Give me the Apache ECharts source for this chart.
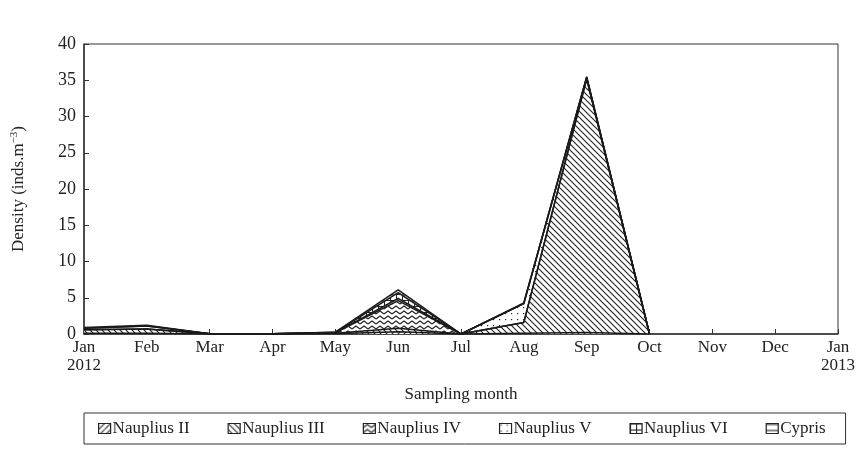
<!DOCTYPE html>
<html>
<head>
<meta charset="utf-8">
<script src="https://cdn.jsdelivr.net/npm/echarts@6/dist/echarts.min.js"></script>
<style>
  html, body { margin: 0; padding: 0; background: #fff; }
</style>
</head>
<body>
<div id="chart" style="width:858px;height:456px;"></div>
<script>
var months = ["Jan\n2012", "Feb", "Mar", "Apr", "May", "Jun", "Jul", "Aug", "Sep", "Oct", "Nov", "Dec", "Jan\n2013"];
var yTicks = [0, 5, 10, 15, 20, 25, 30, 35, 40];
var naupliusII = [0.1, 0.1, 0, 0, 0.05, 0.3, 0, 0.1, 0.2, 0, null, null, null];
var naupliusIII = [0.5, 0.6, 0.02, 0.03, 0.05, 0.5, 0, 1.5, 35.0, 0, null, null, null];
var naupliusIV = [0, 0, 0, 0, 0.05, 3.8, 0, 0, 0, 0, null, null, null];
var naupliusV = [0.2, 0.4, 0.02, 0.02, 0.05, 0.3, 0, 2.6, 0.2, 0, null, null, null];
var naupliusVI = [0, 0, 0, 0, 0.03, 0.8, 0, 0, 0, 0, null, null, null];
var cypris = [0.1, 0.1, 0, 0, 0.02, 0.4, 0, 0.1, 0.1, 0, null, null, null];

var font = "'Liberation Serif', 'DejaVu Serif', serif";

// small canvas tiles used as fill patterns
function makePattern(type) {
  var c = document.createElement("canvas");
  var w = type === "zigzag" ? 8 : 6;
  var h = type === "zigzag" ? 5 : 6;
  c.width = w;
  c.height = h;
  var g = c.getContext("2d");
  g.fillStyle = "#fff";
  g.fillRect(0, 0, w, h);
  g.strokeStyle = "#222";
  g.fillStyle = "#222";
  g.lineWidth = 1.1;
  g.beginPath();
  if (type === "back") {
    g.moveTo(-1, -1); g.lineTo(w + 1, h + 1);
    g.moveTo(-1, h - 1); g.lineTo(1, h + 1);
    g.moveTo(w - 1, -1); g.lineTo(w + 1, 1);
  } else if (type === "fwd") {
    g.moveTo(0, h); g.lineTo(w, 0);
  } else if (type === "zigzag") {
    g.moveTo(0, 4); g.lineTo(4, 1); g.lineTo(8, 4);
  } else if (type === "grid") {
    g.moveTo(0, 0.5); g.lineTo(w, 0.5);
    g.moveTo(0.5, 0); g.lineTo(0.5, h);
  } else if (type === "horiz") {
    g.moveTo(0, 1); g.lineTo(w, 1);
  }
  g.stroke();
  if (type === "dots") {
    g.fillRect(1, 1, 1.2, 1.2);
  }
  return { image: c, repeat: "repeat" };
}

var names = ["Nauplius II", "Nauplius III", "Nauplius IV", "Nauplius V", "Nauplius VI", "Cypris"];
var values = [naupliusII, naupliusIII, naupliusIV, naupliusV, naupliusVI, cypris];
var fills = ["fwd", "back", "zigzag", "dots", "grid", "horiz"];

var chart = echarts.init(document.getElementById("chart"));

var series = names.map(function(n, i) {
  return {
    name: n,
    type: "line",
    stack: "total",
    symbol: "none",
    connectNulls: false,
    lineStyle: { color: "#1a1a1a", width: 1.5 },
    itemStyle: { color: "#1a1a1a" },
    areaStyle: { color: makePattern(fills[i]), opacity: 1 },
    data: values[i]
  };
});

var option = {
  animation: false,
  backgroundColor: "#fff",
  grid: {
    left: 84,
    right: 20,
    top: 44,
    bottom: 122,
    show: true,
    borderColor: "#333",
    borderWidth: 1
  },
  legend: {
    left: 84,
    bottom: 12,
    icon: "rect",
    itemWidth: 12,
    itemHeight: 10,
    itemGap: 38,
    padding: [7, 20, 7, 14],
    borderColor: "#333",
    borderWidth: 1,
    textStyle: { fontFamily: font, fontSize: 17, color: "#222", padding: [0, 0, 0, -3] },
    data: names.map(function(n, i) {
      return {
        name: n,
        itemStyle: { color: makePattern(fills[i]), borderColor: "#222", borderWidth: 1.2 }
      };
    })
  },
  xAxis: {
    type: "category",
    boundaryGap: false,
    data: months,
    name: "Sampling month",
    nameLocation: "middle",
    nameGap: 52,
    nameTextStyle: { fontFamily: font, fontSize: 17, color: "#222" },
    axisLine: { lineStyle: { color: "#333", width: 1.5 } },
    axisTick: { inside: true, length: 5, lineStyle: { color: "#333" } },
    axisLabel: { fontFamily: font, fontSize: 17, color: "#222", margin: 5, lineHeight: 18, interval: 0 },
    splitLine: { show: false }
  },
  yAxis: {
    type: "value",
    min: yTicks[0],
    max: yTicks[yTicks.length - 1],
    interval: 5,
    name: "Density (inds.m{sup|−3})",
    nameLocation: "middle",
    nameGap: 56,
    nameTextStyle: {
      fontFamily: font,
      fontSize: 17,
      color: "#222",
      rich: { sup: { fontFamily: font, fontSize: 11, color: "#222", verticalAlign: "top", padding: [0, 0, 8, 0] } }
    },
    axisLine: { show: true, lineStyle: { color: "#333", width: 1.5 } },
    axisTick: { show: true, inside: true, length: 5, lineStyle: { color: "#333" } },
    axisLabel: { fontFamily: font, fontSize: 18, color: "#222", margin: 8 },
    splitLine: { show: false }
  },
  series: series
};

chart.setOption(option);
window.addEventListener("resize", function() {
  chart.resize();
});
</script>
</body>
</html>
